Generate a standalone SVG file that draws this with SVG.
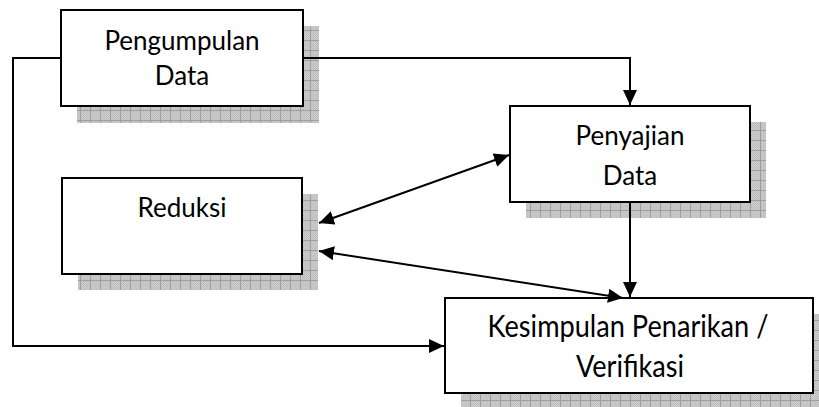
<svg xmlns="http://www.w3.org/2000/svg" width="819" height="407" viewBox="0 0 819 407">
<defs>
<pattern id="dots" width="2" height="2" patternUnits="userSpaceOnUse">
<rect width="2" height="2" fill="#cdcdcd"/>
<rect width="1" height="1" fill="#bdbdbd"/>
<rect x="1" y="1" width="1" height="1" fill="#bdbdbd"/>
</pattern>
<pattern id="grid" width="10" height="10" patternUnits="userSpaceOnUse">
<rect width="10" height="10" fill="url(#dots)"/>
<path d="M0,0.5 H10 M0.5,0 V10" stroke="#9e9e9e" stroke-width="1"/>
</pattern>
<marker id="arr" markerUnits="userSpaceOnUse" markerWidth="16" markerHeight="14" refX="15" refY="7" orient="auto-start-reverse" viewBox="0 0 16 14">
<path d="M0,0 L15,7 L0,14 z" fill="#000"/>
</marker>
<style>
.box{fill:#fff;stroke:#000;stroke-width:2}
.sh{fill:url(#grid)}
.t{font-family:Lato,"Liberation Sans",sans-serif;font-size:26px;fill:#000;text-anchor:middle}
.c{fill:none;stroke:#000;stroke-width:2}
</style>
</defs>
<g id="pengumpulan">
<rect class="sh" x="77" y="26" width="242" height="97"/>
<rect class="box" x="61" y="10" width="242" height="96"/>
<text class="t" x="182" y="50">Pengumpulan</text>
<text class="t" x="182" y="85">Data</text>
</g>
<g id="penyajian">
<rect class="sh" x="526" y="122" width="240" height="96"/>
<rect class="box" x="510" y="106" width="240" height="96"/>
<text class="t" x="630" y="145">Penyajian</text>
<text class="t" x="630" y="185">Data</text>
</g>
<g id="reduksi">
<rect class="sh" x="78" y="194" width="240" height="96"/>
<rect class="box" x="62" y="178" width="240" height="96"/>
<text class="t" x="182" y="217">Reduksi</text>
</g>
<g id="kesimpulan">
<rect class="sh" x="461" y="314" width="368" height="95"/>
<rect class="box" x="445" y="298" width="368" height="95"/>
<text class="t" transform="translate(628,337) scale(1.045,1.15)">Kesimpulan Penarikan /</text>
<text class="t" transform="translate(630,377) scale(1.045,1.15)">Verifikasi</text>
</g>
<g id="connectors">
<path class="c" d="M303,58 H630 V105" marker-end="url(#arr)"/>
<path class="c" d="M61,58 H13 V346 H444" marker-end="url(#arr)"/>
<path class="c" d="M630,202 V297" marker-end="url(#arr)"/>
<path class="c" d="M319,223 L509,155" marker-start="url(#arr)" marker-end="url(#arr)"/>
<path class="c" d="M319,251 L623,298" marker-start="url(#arr)" marker-end="url(#arr)"/>
</g>
</svg>
